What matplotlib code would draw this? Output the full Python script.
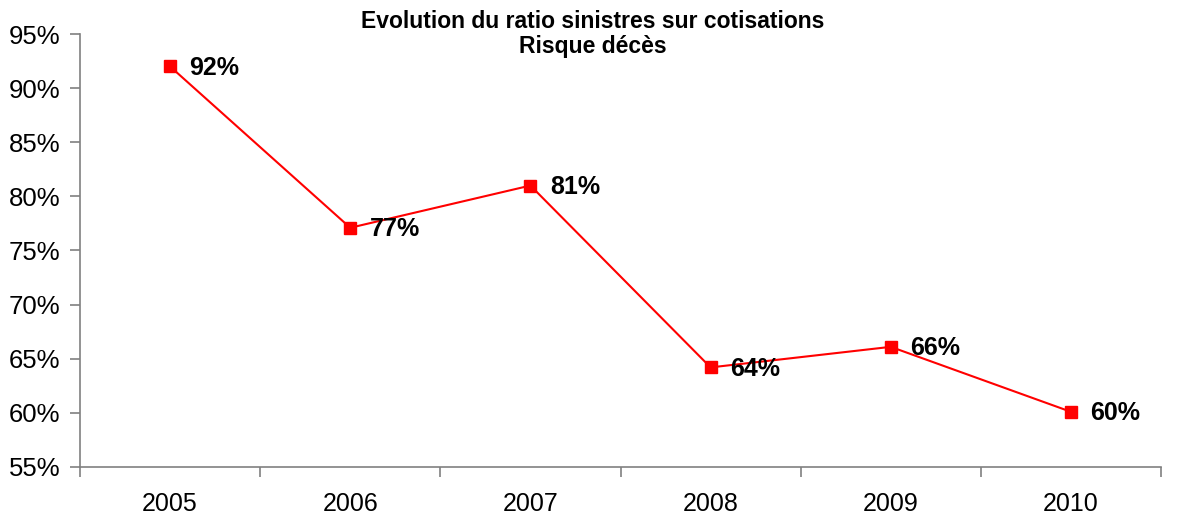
import numpy as np
import matplotlib
matplotlib.use("Agg")
from matplotlib import pyplot as plt
from matplotlib.ticker import FuncFormatter

# data
years = ["2005", "2006", "2007", "2008", "2009", "2010"]
ratio = [92.0, 77.1, 81.0, 64.2, 66.1, 60.1]
labels = ["92%", "77%", "81%", "64%", "66%", "60%"]

plt.rcParams['font.family'] = ['Liberation Sans', 'DejaVu Sans']

fig = plt.figure(figsize=(11.86, 5.17), dpi=100)
ax = fig.add_axes([80/1186, 1-467/517, (1161-80)/1186, (467-34)/517])

x = np.arange(len(years))
ax.plot(x, ratio, color='#ff0000', lw=1.5, marker='s', ms=8.5,
        mfc='#ff0000', mec='#ff0000', zorder=3)
for xi, yi, lab in zip(x, ratio, labels):
    ax.annotate(lab, (xi, yi), xytext=(14, -1), textcoords='offset points',
                ha='left', va='center', fontsize=18, fontweight='bold')

ax.set_xlim(-0.5, len(years) - 0.5)
ax.set_ylim(55, 95)
ax.set_yticks(np.arange(55, 96, 5))
ax.yaxis.set_major_formatter(FuncFormatter(lambda v, p: f"{v:.0f}%"))

# category ticks between the years, labels in the middle
ax.set_xticks(np.arange(-0.5, len(years), 1.0))
ax.set_xticklabels([])
ax.set_xticks(x, minor=True)
ax.set_xticklabels(years, minor=True)
ax.tick_params(axis='x', which='minor', length=0, pad=18, labelsize=18)
ax.tick_params(axis='x', which='major', length=7, color='#808080', width=1.2)
ax.tick_params(axis='y', length=7, color='#808080', width=1.2, labelsize=18.5, pad=7)

for s in ['top', 'right']:
    ax.spines[s].set_visible(False)
for s in ['left', 'bottom']:
    ax.spines[s].set_color('#808080')
    ax.spines[s].set_linewidth(1.2)

fig.text(0.5, 1 - 22/517, "Evolution du ratio sinistres sur cotisations",
         ha='center', va='center', fontsize=16.5, fontweight='bold')
fig.text(0.5, 1 - 47/517, "Risque décès",
         ha='center', va='center', fontsize=16.5, fontweight='bold')

fig.savefig("out.png", dpi=100)
